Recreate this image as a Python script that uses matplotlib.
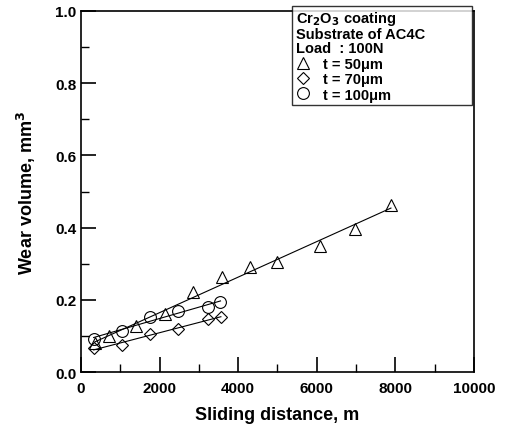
import numpy as np
import matplotlib.pyplot as plt
from matplotlib.ticker import MultipleLocator

plt.rcParams['font.family'] = ['Liberation Sans', 'DejaVu Sans']
plt.rcParams['font.weight'] = 'bold'

# t = 50 um (triangles)
x50 = [350, 700, 1400, 2130, 2850, 3600, 4300, 5000, 6080, 6970, 7890]
y50 = [0.08, 0.10, 0.127, 0.161, 0.222, 0.263, 0.292, 0.305, 0.35, 0.397, 0.464]
# t = 70 um (diamonds)
x70 = [320, 1050, 1760, 2470, 3230, 3560]
y70 = [0.066, 0.075, 0.106, 0.12, 0.148, 0.152]
# t = 100 um (circles)
x100 = [320, 1050, 1760, 2470, 3230, 3550]
y100 = [0.092, 0.114, 0.153, 0.169, 0.181, 0.195]

series = [(x50, y50, '^', 8.5, 't = 50\u03bcm'),
          (x70, y70, 'D', 6.5, 't = 70\u03bcm'),
          (x100, y100, 'o', 8.5, 't = 100\u03bcm')]

fig = plt.figure(figsize=(5.1, 4.27), dpi=100)
ax = fig.add_axes([0.159, 0.126, 0.77, 0.846])

handles = []
for xs, ys, m, ms, lab in series:
    xs = np.array(xs)
    ys = np.array(ys)
    k, b = np.polyfit(xs, ys, 1)
    xf = np.array([xs.min(), xs.max()])
    ax.plot(xf, k * xf + b, color='black', lw=0.8)
    h, = ax.plot(xs, ys, linestyle='none', marker=m, ms=ms, mfc='none',
                 mec='black', mew=0.8, label=lab)
    handles.append(h)

ax.set_xlim(0, 10000)
ax.set_ylim(0, 1.0)
ax.xaxis.set_major_locator(MultipleLocator(2000))
ax.xaxis.set_minor_locator(MultipleLocator(1000))
ax.yaxis.set_major_locator(MultipleLocator(0.2))
ax.yaxis.set_minor_locator(MultipleLocator(0.1))
ax.yaxis.set_major_formatter(plt.FuncFormatter(lambda v, p: '%.1f' % v))
ax.tick_params(which='major', direction='in', length=11, width=1.2, labelsize=11)
ax.tick_params(which='minor', direction='in', length=6, width=1.0)
ax.tick_params(axis='x', pad=6)
for s in ax.spines.values():
    s.set_linewidth(1.2)

ax.set_xlabel('Sliding distance, m', fontsize=13, fontweight='bold', labelpad=8)
ax.set_ylabel('Wear volume, mm$^3$', fontsize=13, fontweight='bold', labelpad=12)

leg = ax.legend(handles=handles, loc='upper left',
                bbox_to_anchor=(0.537, 0.70, 0.458, 0.315), mode='expand',
                fontsize=10.5,
                title='Cr$_2$O$_3$ coating\nSubstrate of AC4C\nLoad  : 100N',
                title_fontproperties={'weight': 'bold', 'size': 10.5},
                alignment='left', frameon=True, fancybox=False,
                edgecolor='black', borderaxespad=0.0, borderpad=0.25,
                handletextpad=0.9, labelspacing=0.1, handlelength=1.0)
leg.get_frame().set_linewidth(1.0)
leg.get_title().set_linespacing(1.0)

fig.savefig('out.png', dpi=100)
